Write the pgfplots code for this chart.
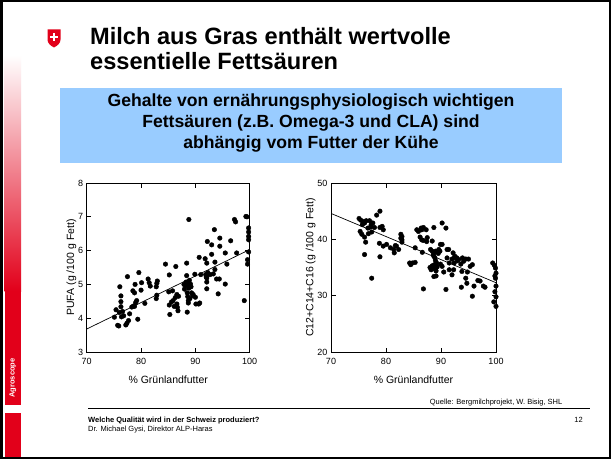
\documentclass[border=0pt]{standalone}
\usepackage{pgfplots}
\pgfplotsset{compat=1.18}
\usepackage{fontspec}
\setmainfont{Liberation Sans}
\definecolor{swred}{RGB}{226,0,26}
\definecolor{boxblue}{RGB}{153,204,255}
\begin{document}
\begin{tikzpicture}[x=1pt,y=1pt]
\useasboundingbox (0,0) rectangle (612,461);
\fill[white] (0,0) rectangle (612,461);
% left stripe
\shade[top color=white, bottom color=swred] (4.5,406) rectangle (21,170);
\fill[swred] (4.5,170.5) rectangle (21,56);
\fill[swred] (4.5,48) rectangle (21,4);
\node[rotate=90, text=white, font=\bfseries\fontsize{7.5}{9}\selectfont] at (12.75,83) {Agroscope};
% frame
\draw[line width=2.5pt] (1.25,3.25) rectangle (609.75,459.75);
% swiss shield
\fill[swred] (47.5,431.5) -- (60.5,431.5) -- (60.5,421.5) .. controls (60.5,417.5) and (57.5,415.5) .. (54,413.5) .. controls (50.5,415.5) and (47.5,417.5) .. (47.5,421.5) -- cycle;
\fill[white] (52.8,419.5) rectangle (55.2,428.3);
\fill[white] (49.6,422.7) rectangle (58.4,425.1);
% title
\node[anchor=base west, font=\bfseries\fontsize{23.6}{27}\selectfont, inner sep=0pt] at (90,416.5) {Milch aus Gras enthält wertvolle};
\node[anchor=base west, font=\bfseries\fontsize{23.6}{27}\selectfont, inner sep=0pt] at (90,391) {essentielle Fettsäuren};
% blue box
\fill[boxblue] (60,373) rectangle (562,298);
\node[anchor=base, font=\bfseries\fontsize{17.6}{20}\selectfont, inner sep=0pt] at (311,354) {Gehalte von ernährungsphysiologisch wichtigen};
\node[anchor=base, font=\bfseries\fontsize{17.6}{20}\selectfont, inner sep=0pt] at (311,333) {Fettsäuren (z.B. Omega-3 und CLA) sind};
\node[anchor=base, font=\bfseries\fontsize{17.6}{20}\selectfont, inner sep=0pt] at (311,312) {abhängig vom Futter der Kühe};
% footer
\draw[line width=0.9pt] (88,52.5) -- (590,52.5);
\node[anchor=base east, font=\fontsize{7.5}{9}\selectfont, inner sep=0pt] at (562.5,57) {Quelle: Bergmilchprojekt, W. Bisig, SHL};
\node[anchor=base west, font=\bfseries\fontsize{7.5}{9}\selectfont, inner sep=0pt] at (88,39) {Welche Qualität wird in der Schweiz produziert?};
\node[anchor=base west, font=\fontsize{7.5}{9}\selectfont, inner sep=0pt] at (88,30) {Dr. Michael Gysi, Direktor ALP-Haras};
\node[anchor=base east, font=\fontsize{7.5}{9}\selectfont, inner sep=0pt] at (583,39) {12};

\pgfplotsset{myax/.style={anchor=south west, scale only axis, height=169pt,
  xmin=70, xmax=100, xtick={70,80,90,100},
  tick align=inside, major tick length=4.5pt,
  axis line style={line width=0.8pt}, tick style={black, line width=0.7pt},
  ticklabel style={font=\fontsize{9}{10}\selectfont},
  xticklabel style={yshift=-2.5pt},
  /pgf/number format/assume math mode=true,
  label style={font=\fontsize{10.5}{12}\selectfont},
  xlabel style={yshift=-5pt},
  ylabel style={yshift=-5pt},
  xlabel={\% Grünlandfutter}}}

\begin{axis}[myax, at={(86.7pt,109pt)}, width=163pt, ymin=3, ymax=8, ytick={3,4,5,6,7,8},
  ylabel={PUFA (g /100 g Fett)}]
\addplot[only marks, mark=*, mark size=2.3pt, black] coordinates {
(75.1,4.03) (75.4,4.25) (75.7,3.79) (75.9,3.77) (76.1,4.93) (76.3,4.66) (76.3,4.49) (76.3,4.34)
(76.0,4.17) (76.4,4.04) (76.8,4.07) (76.6,4.20) (77.2,3.80) (77.4,3.85) (77.7,3.93) (77.5,5.23)
(77.9,4.13) (78.3,4.33) (78.6,4.36) (78.5,4.81) (78.8,4.75) (78.9,5.00) (78.8,4.35) (79.0,4.46)
(79.2,4.52) (79.4,3.97) (79.6,5.35) (80.0,4.83) (80.1,5.05) (80.7,4.44) (81.3,5.16) (81.5,5.05)
(81.7,4.95) (82.8,4.93) (82.9,5.03) (83.0,5.10) (82.9,4.68) (82.8,4.58) (84.5,5.60) (85.2,5.28)
(85.1,4.78) (85.2,4.39) (85.3,4.11) (85.8,4.81) (85.6,4.48) (85.9,4.52) (86.1,4.35) (86.3,4.61)
(86.4,5.53) (86.6,4.42) (86.7,4.32) (86.8,4.22) (86.6,4.70) (86.9,4.65) (87.9,5.00) (88.0,4.86)
(88.2,4.96) (88.4,5.63) (88.4,5.26) (88.3,5.07) (88.5,4.99) (88.5,4.75) (88.6,4.64) (88.7,4.52)
(88.7,4.45) (88.5,4.18) (88.8,6.92) (88.8,4.89) (89.1,5.01) (89.3,4.75) (89.5,4.67) (88.9,5.12)
(89.0,4.58) (88.6,5.05) (89.2,4.93) (89.9,5.30) (90.1,4.42) (90.6,4.42) (90.7,5.80) (91.0,5.29)
(91.8,5.76) (91.9,5.29) (92.1,5.63) (92.1,5.19) (92.1,5.07) (92.1,4.87) (92.2,6.27) (92.7,5.29)
(93.0,6.17) (93.0,5.89) (93.3,5.31) (93.5,6.62) (93.6,5.66) (93.6,5.44) (93.9,5.16) (94.2,4.72)
(94.4,5.16) (94.5,6.37) (94.5,6.13) (95.5,5.93) (95.5,5.01) (95.8,5.60) (96.5,6.29) (97.2,6.92)
(97.4,6.85) (97.6,5.93) (99.0,4.52) (99.3,7.01) (99.5,7.00) (99.8,6.67) (99.8,6.55) (99.8,6.42)
(99.8,6.32) (99.8,5.96) (99.6,5.73) (99.6,5.60) (92.3,5.35) (92.0,5.22) (90.0,4.62) (89.6,4.70)
(90.8,4.45)
};
\addplot[black, line width=0.7pt] coordinates {(70,3.68) (100,6.03)};
\end{axis}

\begin{axis}[myax, at={(331pt,109pt)}, width=165pt, ymin=20, ymax=50, ytick={20,30,40,50},
  ylabel={C12+C14+C16 (g /100 g Fett)}]
\addplot[only marks, mark=*, mark size=2.3pt, black] coordinates {
(75.1,43.7) (75.4,43.4) (75.8,43.2) (76.1,42.9) (76.4,43.3) (76.7,42.0) (77.0,43.3) (77.3,42.6)
(77.6,42.9) (77.9,42.1) (78.3,44.3) (78.9,45.0) (78.9,42.1) (79.3,42.3) (79.5,41.7) (75.3,41.4)
(75.6,40.9) (76.1,40.4) (76.3,39.5) (76.1,37.3) (77.4,41.3) (77.4,33.1) (78.8,39.3) (78.9,36.9)
(79.5,38.8) (80.1,39.1) (80.8,38.5) (81.4,38.2) (81.5,37.6) (81.9,38.8) (82.7,40.9) (82.9,40.5)
(82.9,39.9) (82.9,39.5) (82.7,40.2) (84.5,35.5) (76.8,41.0) (77.2,42.2) (75.7,42.6)
(84.8,35.8) (85.3,35.9) (85.3,38.5) (85.6,41.7) (85.9,41.4) (86.2,40.4) (86.4,42.0) (86.5,41.7)
(86.8,42.1) (86.5,39.9) (86.8,39.8) (86.6,37.7) (87.4,39.6) (86.8,31.2) (88.1,38.2) (88.4,37.9)
(88.6,37.3) (88.7,37.0) (88.9,36.7) (88.0,35.0) (88.2,34.6) (88.4,35.3) (88.6,34.8) (88.8,35.5)
(89.0,34.9) (89.2,35.8) (88.7,33.4) (89.1,34.4) (89.3,35.1) (88.7,42.1) (89.8,37.9) (89.9,39.1)
(89.9,35.6) (89.5,37.5) (89.2,37.8) (89.0,36.2) (90.2,42.9) (90.9,42.0) (91.1,38.2) (90.9,31.1)
(91.5,35.8) (92.0,36.5) (92.3,34.6) (92.4,35.8) (92.7,36.7) (93.0,36.2) (92.2,37.6) (92.5,37.0)
(92.0,33.7) (93.6,35.6) (93.8,34.3) (93.9,36.7) (94.5,36.5) (94.5,33.1) (94.7,32.2) (94.8,34.2)
(93.7,31.5) (95.7,35.5) (95.7,29.9) (96.0,31.7) (96.7,32.7) (97.7,31.7) (98.0,31.5) (99.4,35.8)
(99.7,35.4) (99.9,34.9) (100.0,34.0) (99.9,33.1) (100.0,31.7) (99.8,30.7) (100.0,29.8) (99.6,28.9)
(100.0,28.1) (99.8,33.5) (87.3,41.7) (87.5,40.3) (88.4,39.7) (89.0,37.9) (89.6,38.2) (90.2,39.1)
(91.4,38.2) (91.1,36.7) (92.9,36.7) (93.2,36.4) (94.1,36.1) (95.0,36.5) (95.3,35.2) (89.1,33.5)
(90.2,35.2) (90.5,34.2) (91.5,34.6) (82.3,38.2) (81.7,38.9) (84.3,35.8) (97.1,32.6)
};
\addplot[black, line width=0.7pt] coordinates {(70,44.6) (100,32.3)};
\end{axis}
\end{tikzpicture}
\end{document}
